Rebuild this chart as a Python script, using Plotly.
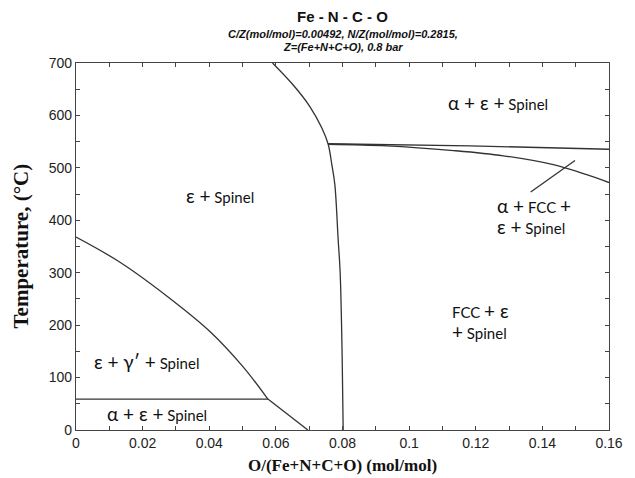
import plotly.graph_objects as go

# Phase-boundary lines of the Fe-N-C-O isopleth (x = O mole fraction, T in deg C)
eps_gam_x = [0.0, 0.0132, 0.0282, 0.0402, 0.0501, 0.0576]
eps_gam_t = [368, 320, 251, 188, 121, 59]

low_diag_x = [0.0576, 0.0696]
low_diag_t = [59, 0]

low_flat_x = [0.0, 0.0576]
low_flat_t = [59, 59]

spinel_x = [0.059, 0.0652, 0.0702, 0.0738, 0.0757, 0.0768, 0.0777, 0.0787, 0.0793, 0.0799, 0.0802]
spinel_t = [700, 658, 617, 576, 545, 506, 468, 363, 300, 139, 0]

upper_flat_x = [0.0757, 0.1183, 0.16]
upper_flat_t = [546, 542, 535.5]

fcc_x = [0.0757, 0.0933, 0.1133, 0.1283, 0.1433, 0.1533, 0.16]
fcc_t = [545, 542, 533, 523, 506, 487, 472]

pointer_x = [0.1365, 0.1498]
pointer_t = [454, 514]

x_ticks = [0, 0.02, 0.04, 0.06, 0.08, 0.1, 0.12, 0.14, 0.16]
x_tick_text = ["0", "0.02", "0.04", "0.06", "0.08", "0.1", "0.12", "0.14", "0.16"]
y_ticks = [0, 100, 200, 300, 400, 500, 600, 700]

LINE = "#333333"
LABEL_FONT = "Lato, Noto Sans, sans-serif"

fig = go.Figure()

segments = [
    (eps_gam_x, eps_gam_t, "spline"),
    (low_diag_x, low_diag_t, "linear"),
    (low_flat_x, low_flat_t, "linear"),
    (spinel_x, spinel_t, "spline"),
    (upper_flat_x, upper_flat_t, "spline"),
    (fcc_x, fcc_t, "spline"),
    (pointer_x, pointer_t, "linear"),
]
for xs, ts, shape in segments:
    fig.add_trace(go.Scatter(
        x=xs, y=ts, mode="lines",
        line=dict(color=LINE, width=1.3, shape=shape, smoothing=1.0),
        hoverinfo="skip", showlegend=False,
    ))


def big(s):
    return '<span style="font-size:19px">' + s + '</span>'


# One annotation per text line: (x, T, text, anchor)
region_labels = [
    (0.0432, 448, big("ε +") + " Spinel", "center"),
    (0.1267, 624, big("α + ε +") + " Spinel", "center"),
    (0.1258, 429, big("α +") + " FCC " + big("+"), "left"),
    (0.1258, 389, big("ε +") + " Spinel", "left"),
    (0.1123, 228, "FCC " + big("+ ε"), "left"),
    (0.1123, 188, big("+") + " Spinel", "left"),
    (0.0048, 130, big("ε + γ′ +") + " Spinel", "left"),
    (0.0087, 32, big("α + ε +") + " Spinel", "left"),
]
for x, t, txt, anchor in region_labels:
    fig.add_annotation(
        x=x, y=t, xref="x", yref="y", text=txt, showarrow=False,
        xanchor=anchor, yanchor="middle", align="left",
        font=dict(family=LABEL_FONT, size=15, color="#111111"),
    )

# Title block
fig.add_annotation(
    x=0.5, y=1, xref="paper", yref="paper", yshift=47, showarrow=False,
    text="<b>Fe - N - C - O</b>", xanchor="center", yanchor="middle",
    font=dict(family="Liberation Sans, Arial", size=15, color="#111111"),
)
fig.add_annotation(
    x=0.5, y=1, xref="paper", yref="paper", yshift=29, showarrow=False,
    text="<b><i>C/Z(mol/mol)=0.00492, N/Z(mol/mol)=0.2815,</i></b>",
    xanchor="center", yanchor="middle",
    font=dict(family="Liberation Sans, Arial", size=11, color="#111111"),
)
fig.add_annotation(
    x=0.5, y=1, xref="paper", yref="paper", yshift=16, showarrow=False,
    text="<b><i>Z=(Fe+N+C+O), 0.8 bar</i></b>",
    xanchor="center", yanchor="middle",
    font=dict(family="Liberation Sans, Arial", size=11, color="#111111"),
)

# Axis titles
fig.add_annotation(
    x=0.5, y=0, xref="paper", yref="paper", yshift=-35, showarrow=False,
    text="<b>O/(Fe+N+C+O) (mol/mol)</b>", xanchor="center", yanchor="middle",
    font=dict(family="Liberation Serif, Times New Roman", size=17, color="#111111"),
)
fig.add_annotation(
    x=0, y=0.5, xref="paper", yref="paper", xshift=-56, showarrow=False,
    text="<b>Temperature, (°C)</b>", textangle=-90, xanchor="center", yanchor="middle",
    font=dict(family="Liberation Serif, Times New Roman", size=21, color="#111111"),
)

axis_common = dict(
    showline=True, linecolor="#444444", linewidth=1.2, mirror="allticks",
    ticks="inside", ticklen=4, tickwidth=1, tickcolor="#444444",
    showgrid=False, zeroline=False,
    tickfont=dict(family="Liberation Sans, Arial", size=14, color="#222222"),
)

fig.update_xaxes(
    range=[0, 0.16], tickvals=x_ticks, ticktext=x_tick_text,
    minor=dict(dtick=0.01, ticks="inside", ticklen=4, tickcolor="#444444", showgrid=False),
    **axis_common,
)
fig.update_yaxes(
    range=[0, 700], tickvals=y_ticks,
    minor=dict(dtick=50, ticks="inside", ticklen=4, tickcolor="#444444", showgrid=False),
    **axis_common,
)

fig.update_layout(
    width=635, height=478,
    margin=dict(l=76, r=26, t=63, b=48),
    paper_bgcolor="white", plot_bgcolor="white",
)

fig.write_html("out.html")
